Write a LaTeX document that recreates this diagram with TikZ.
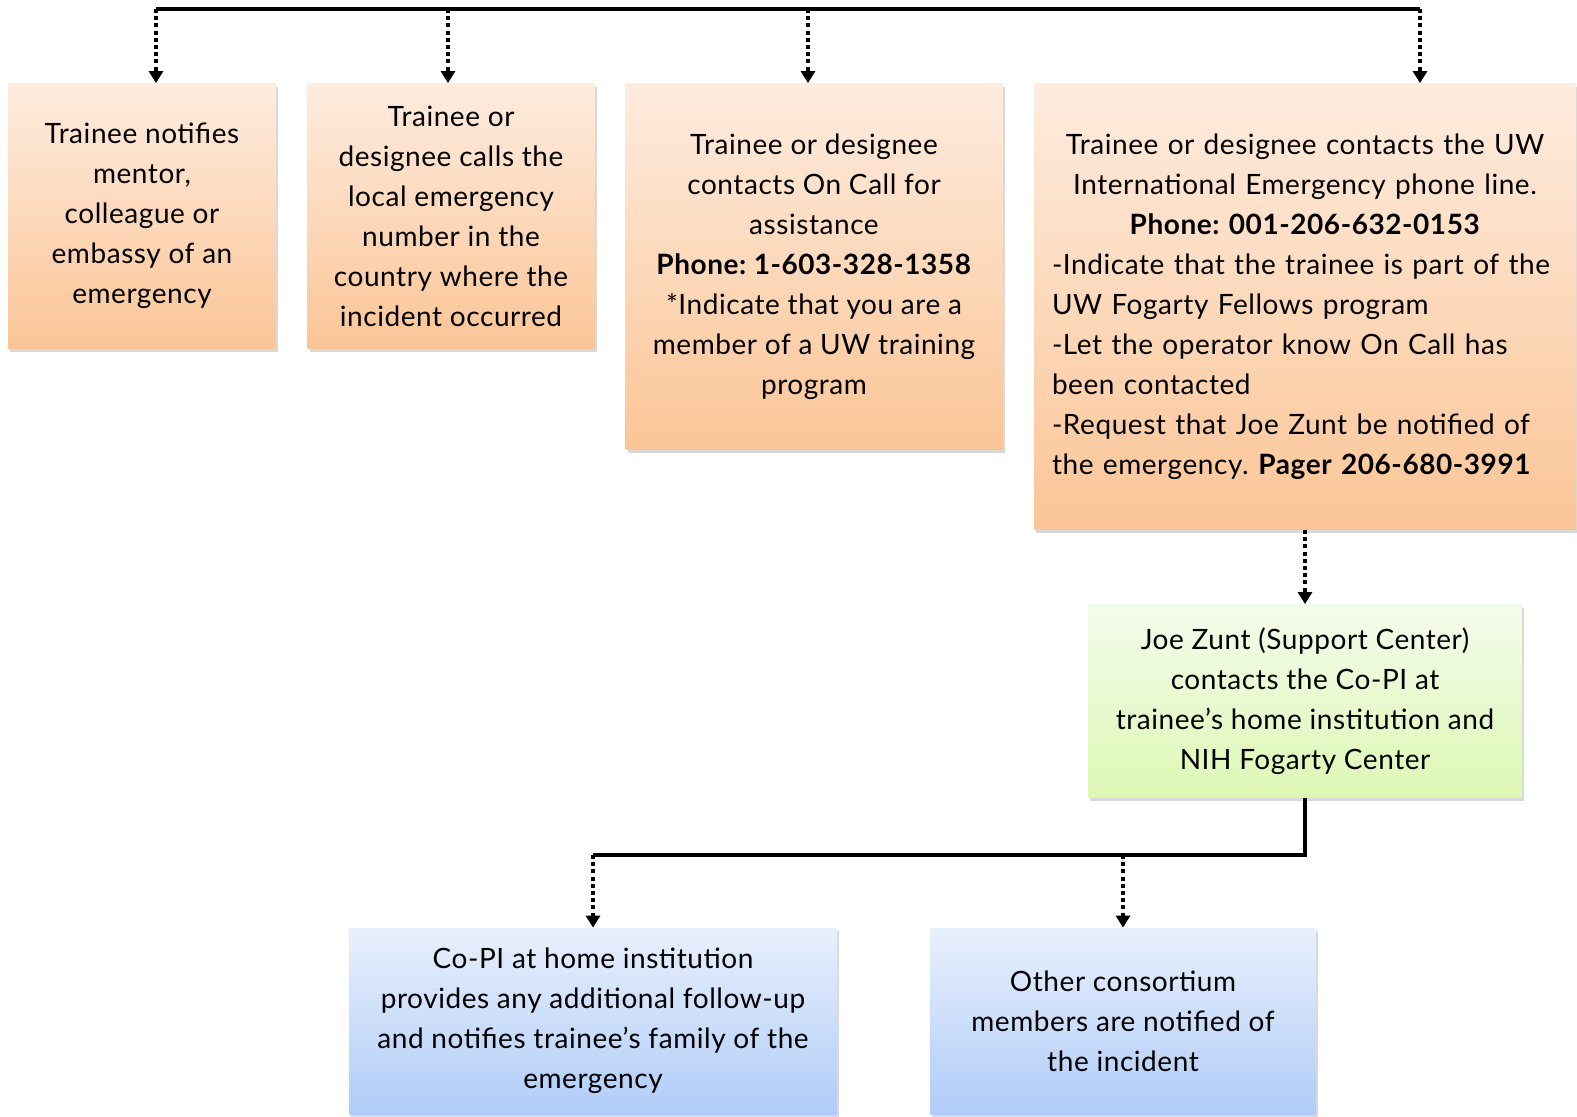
\documentclass[tikz,border=0pt]{standalone}
\usepackage{fontspec}
\setmainfont{Lato}[LetterSpace=2]
\usetikzlibrary{shadows, arrows.meta, positioning, calc}
\definecolor{orangetop}{HTML}{FEECDF}
\definecolor{orangebot}{HTML}{FBC596}
\definecolor{greentop}{HTML}{F4FBEC}
\definecolor{greenbot}{HTML}{DDF8B4}
\definecolor{bluetop}{HTML}{E8F0FC}
\definecolor{bluebot}{HTML}{B0CCF8}
\frenchspacing

\begin{document}
\begin{tikzpicture}[x=0.5pt,y=-0.5pt,
        box/.style={inner sep=0pt,align=center,font=\fontsize{14}{20}\selectfont,
            drop shadow={shadow xshift=1pt,shadow yshift=-1.5pt,opacity=0.3}},
        orangebox/.style={box,top color=orangetop,bottom color=orangebot},
        greenbox/.style={box,top color=greentop,bottom color=greenbot},
        bluebox/.style={box,top color=bluetop,bottom color=bluebot},
        bar/.style={line width=2pt},
        flow/.style={line width=2pt,dash pattern=on 2pt off 1.6pt,-{Triangle[width=7pt,length=6pt]}}]
        \useasboundingbox (0,0) rectangle (1577,1116);
        % First reactions
        \node[orangebox,minimum width=134pt,minimum height=132.5pt] (notify) at (142,216) {Trainee notifies\\mentor,\\colleague or\\embassy of an\\emergency};
        \node[orangebox,minimum width=143.5pt,minimum height=132.5pt] (local) at (451,216) {Trainee or\\designee calls the\\local emergency\\number in the\\country where the\\incident occurred};
        \node[orangebox,minimum width=188.5pt,minimum height=183pt] (oncall) at (814,266.5) {Trainee or designee\\contacts On Call for\\assistance\\\textbf{Phone: 1-603-328-1358}\\*Indicate that you are a\\member of a UW training\\program};
        \node[orangebox,text width=253pt,inner xsep=9pt,align=left,minimum height=223pt] (uwline) at (1305,306.5) {{\centering Trainee or designee contacts the UW\\International Emergency phone line.\\\textbf{Phone: 001-206-632-0153}\par}
            -Indicate that the trainee is part of the\\UW Fogarty Fellows program\\-Let the operator know On Call has\\been contacted\\-Request that Joe Zunt be notified of\\the emergency. \textbf{Pager 206-680-3991}};
        % Support center
        \node[greenbox,minimum width=217pt,minimum height=96.5pt] (zunt) at (1305,701) {Joe Zunt (Support Center)\\contacts the Co-PI at\\trainee’s home institution and\\NIH Fogarty Center};
        % Follow-up
        \node[bluebox,minimum width=244pt,minimum height=93pt] (copi) at (593,1021) {Co-PI at home institution\\provides any additional follow-up\\and notifies trainee’s family of the\\emergency};
        \node[bluebox,minimum width=193pt,minimum height=93pt] (others) at (1123,1021) {Other consortium\\members are notified of\\the incident};
        % Connectors
        \coordinate (t1) at (156,9);
        \coordinate (t2) at (448,9);
        \coordinate (t3) at (808,9);
        \coordinate (t4) at (1420,9);
        \draw[bar] (t1) -- (t4);
        \draw[flow] (t1) -- (t1 |- notify.north);
        \draw[flow] (t2) -- (t2 |- local.north);
        \draw[flow] (t3) -- (t3 |- oncall.north);
        \draw[flow] (t4) -- (t4 |- uwline.north);
        \draw[flow] (uwline.south) -- (zunt.north);
        \coordinate (b1) at (593,855);
        \coordinate (b2) at (1123,855);
        \draw[bar] (zunt.south) |- (b1);
        \draw[flow] (b1) -- (copi.north);
        \draw[flow] (b2) -- (others.north);
      \end{tikzpicture}
\end{document}
